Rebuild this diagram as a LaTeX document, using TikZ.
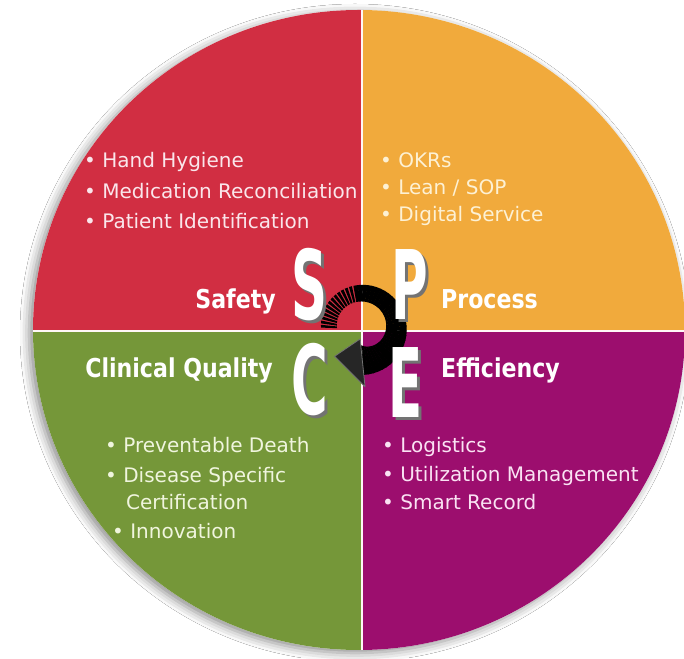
\documentclass[tikz,border=0pt]{standalone}
\usepackage{fontspec}
\setmainfont{DejaVu Sans}
\newfontfamily\headfont[FakeStretch=0.85]{DejaVu Sans}
\newfontfamily\letterfont[FakeStretch=0.52]{DejaVu Sans}
\usepackage{xcolor}
\usepackage{tikz}
\usetikzlibrary{calc,positioning,shadows.blur}
\definecolor{safetyred}{RGB}{209,46,66}
\definecolor{processorange}{RGB}{241,170,60}
\definecolor{qualitygreen}{RGB}{117,151,57}
\definecolor{efficiencymag}{RGB}{156,14,110}
\definecolor{redtext}{RGB}{250,230,235}
\definecolor{orangetext}{RGB}{253,241,212}
\definecolor{greentext}{RGB}{240,245,222}
\definecolor{magtext}{RGB}{250,226,243}
% big letter with its drop shadow
\newcommand{\shadedletter}[1]{\rlap{\hspace{3pt}\raisebox{-3pt}{\color{black!55}#1}}#1}
\tikzset{%
      divider/.style = { white!88!pink, line width=2pt },
         item/.style = { anchor=base west, inner sep=0pt, font=\fontsize{20}{24}\selectfont },
      heading/.style = { inner sep=0pt, text=white, font=\headfont\bfseries\fontsize{26}{30}\selectfont },
       letter/.style = { anchor=base, inner sep=0pt, text=white, font=\letterfont\bfseries\fontsize{96}{100}\selectfont },
    arrowhead/.style = { fill=black!85, draw=black!55, line width=0.8pt }
}

\begin{document}
\begin{tikzpicture}[x=1pt,y=1pt,line join=round]
\useasboundingbox (0,0) rectangle (684,658);
\fill[white] (0,0) rectangle (684,658);
% disc and its shadow
\fill[white,blur shadow={shadow xshift=-4pt,shadow yshift=-3pt,shadow blur radius=9pt,shadow opacity=45}]
      (359,328) ellipse [x radius=326,y radius=320];
\begin{scope}
  \clip (359,328) ellipse [x radius=326,y radius=320];
  \fill[safetyred]     (0,327) rectangle (362,658);
  \fill[processorange] (362,327) rectangle (684,658);
  \fill[qualitygreen]  (0,0) rectangle (362,327);
  \fill[efficiencymag] (362,0) rectangle (684,327);
  \draw[divider] (362,0) -- (362,658);
  \draw[divider] (0,327) -- (684,327);
\end{scope}

% bullet lists
\node[item,text=redtext] (hh)     at (84,490) {\textbullet\ Hand Hygiene};
\node[item,text=redtext] (medrec) at (84,459) {\textbullet\ Medication Reconciliation};
\node[item,text=redtext] (patid)  at (84,429) {\textbullet\ Patient Identification};

\node[item,text=orangetext] (okrs)    at (380,490) {\textbullet\ OKRs};
\node[item,text=orangetext] (lean)    at (380,463) {\textbullet\ Lean / SOP};
\node[item,text=orangetext] (digital) at (380,436) {\textbullet\ Digital Service};

\node[item,text=greentext] (prevdeath) at (105,205) {\textbullet\ Preventable Death};
\node[item,text=greentext] (disease)   at (105,175) {\textbullet\ Disease Specific};
\node[item,text=greentext] (cert)      at (126,148) {Certification};
\node[item,text=greentext] (innov)     at (112,120) {\textbullet\ Innovation};

\node[item,text=magtext] (logistics) at (382,205) {\textbullet\ Logistics};
\node[item,text=magtext] (utilman)   at (382,176) {\textbullet\ Utilization Management};
\node[item,text=magtext] (smartrec)  at (382,148) {\textbullet\ Smart Record};

% headings
\node[heading,anchor=base east] (safety)     at (276,349) {Safety};
\node[heading,anchor=base west] (process)    at (441,349) {Process};
\node[heading,anchor=base east] (quality)    at (273,280) {Clinical Quality};
\node[heading,anchor=base west] (efficiency) at (441,280) {Efficiency};

% cycle arrow
\begin{scope}[shift={(361,329)}]
  \foreach \a in {178,172,...,-90} {
    \pgfmathsetmacro\gap{\a>104 ? 2 : -0.6}
    \pgfmathsetmacro\b{\a-6+\gap}
    \pgfmathsetmacro\ta{(178-\a)/270}
    \pgfmathsetmacro\tb{(178-\b)/270}
    \pgfmathsetmacro\ria{24+20*\ta-28*\ta^2}
    \pgfmathsetmacro\rib{24+20*\tb-28*\tb^2}
    \pgfmathsetmacro\roa{46-6*(1-\ta)^3}
    \pgfmathsetmacro\rob{46-6*(1-\tb)^3}
    \fill[black] (\a:\ria) -- (\a:\roa) -- (\b:\rob) -- (\b:\rib) -- cycle;
  }
  \filldraw[arrowhead] (-95:10) -- (-86:58) -- (-134:38) -- cycle;
\end{scope}

% S P C E
\node[letter] (S) at (309,338) {\shadedletter{S}};
\node[letter] (P) at (410,338) {\shadedletter{P}};
\node[letter] (C) at (310,243) {\shadedletter{C}};
\node[letter] (E) at (406,240) {\shadedletter{E}};
\end{tikzpicture}
\end{document}
